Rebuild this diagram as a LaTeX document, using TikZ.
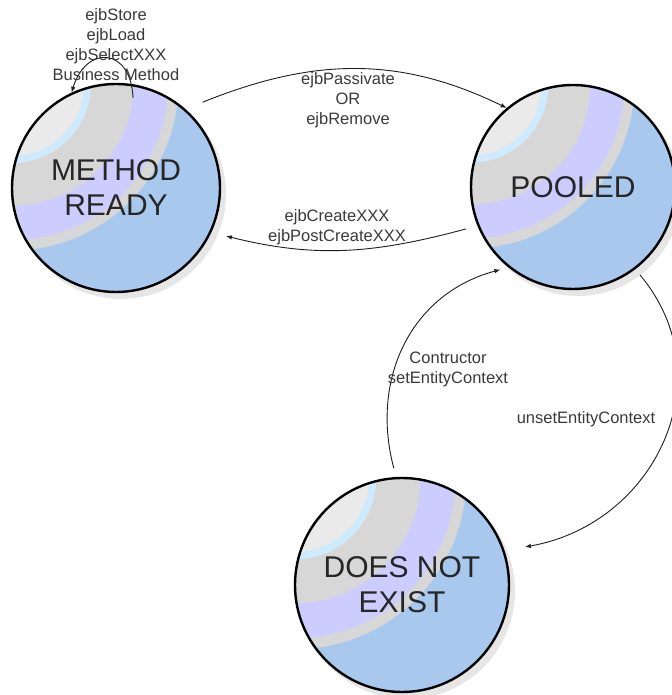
\documentclass[tikz,border=0pt]{standalone}
\usepackage{fontspec}
\setmainfont{Liberation Sans}
\usetikzlibrary{calc,arrows.meta}

\definecolor{bandblue}{HTML}{A8C8EE}
\definecolor{bandgray}{HTML}{D7D7D7}
\definecolor{bandlav}{HTML}{CCCCFF}
\definecolor{bandlight}{HTML}{EAEAEA}
\definecolor{bandsky}{HTML}{CFEAFD}
\definecolor{shadowgray}{HTML}{E6E6E6}
\definecolor{labelgray}{HTML}{3A3A3A}
\definecolor{linegray}{HTML}{1E1E1E}

\tikzset{
  statenode/.style={circle, draw=black, line width=2.4pt, inner sep=0pt,
    align=center, text=black!85, font={\fontsize{30}{35}\selectfont}},
  edge/.style={draw=linegray, line width=0.9pt,
    -{Latex[length=6pt,width=4.5pt]}},
  elabel/.style={align=center, text=labelgray, inner sep=0pt,
    font={\fontsize{16.5}{20}\selectfont}},
}

% banded state disc: name, centre, radius, text
\newcommand\statedisc[4]{%
  \fill[shadowgray] ($(#2)+(5,-6)$) circle (#3+1);
  \begin{scope}
    \clip (#2) circle (#3);
    \fill[bandblue] (#2) circle (#3);
    \coordinate (#1corner) at ($(#2)+(-#3,#3)$);
    \fill[bandgray]  (#1corner) circle ({1.60*#3});
    \fill[bandlav]   (#1corner) circle ({1.50*#3});
    \fill[bandgray]  (#1corner) circle ({1.17*#3});
    \fill[bandsky]   (#1corner) circle ({0.76*#3});
    \fill[bandlight] (#1corner) circle ({0.69*#3});
  \end{scope}
  \node[statenode, minimum size={2*#3 pt}] (#1) at (#2) {#4};%
}

\begin{document}
\begin{tikzpicture}[x=1pt,y=1pt]
  \useasboundingbox (0,0) rectangle (671,695);

  \statedisc{mr}{116,507}{104}{METHOD\\READY}
  \statedisc{pool}{573,508}{102}{POOLED}
  \statedisc{dne}{402,110}{107}{DOES NOT\\EXIST}

  % transitions
  \draw[edge] ($(mr)+(79.3:91.6)$) to[out=92, in=73, looseness=2.1] (mr.115);
  \draw[edge] ($(mr)+(44.7:122)$) to[out=22, in=154] (pool.130);
  \draw[edge] ($(pool)+(201.4:115)$) to[out=195, in=-14] ($(mr)+(-23.6:120)$);
  \draw[edge] ($(dne)+(94:117)$) to[out=105, in=195, looseness=1.05] ($(pool)+(228.7:110)$);
  \draw[edge] ($(pool)+(-52.7:110.6)$) to[out=-50, in=10, looseness=1.15] ($(dne)+(17.2:128.7)$);

  % transition labels
  \node[elabel] (lself)   at (116,650) {ejbStore\\ejbLoad\\ejbSelectXXX\\Business Method};
  \node[elabel] (lpass)   at (348,595) {ejbPassivate\\OR\\ejbRemove};
  \node[elabel] (lcreate) at (337,468) {ejbCreateXXX\\ejbPostCreateXXX};
  \node[elabel] (lctor)   at (448,326) {Contructor\\setEntityContext};
  \node[elabel] (lunset)  at (586,276) {unsetEntityContext};
\end{tikzpicture}
\end{document}
